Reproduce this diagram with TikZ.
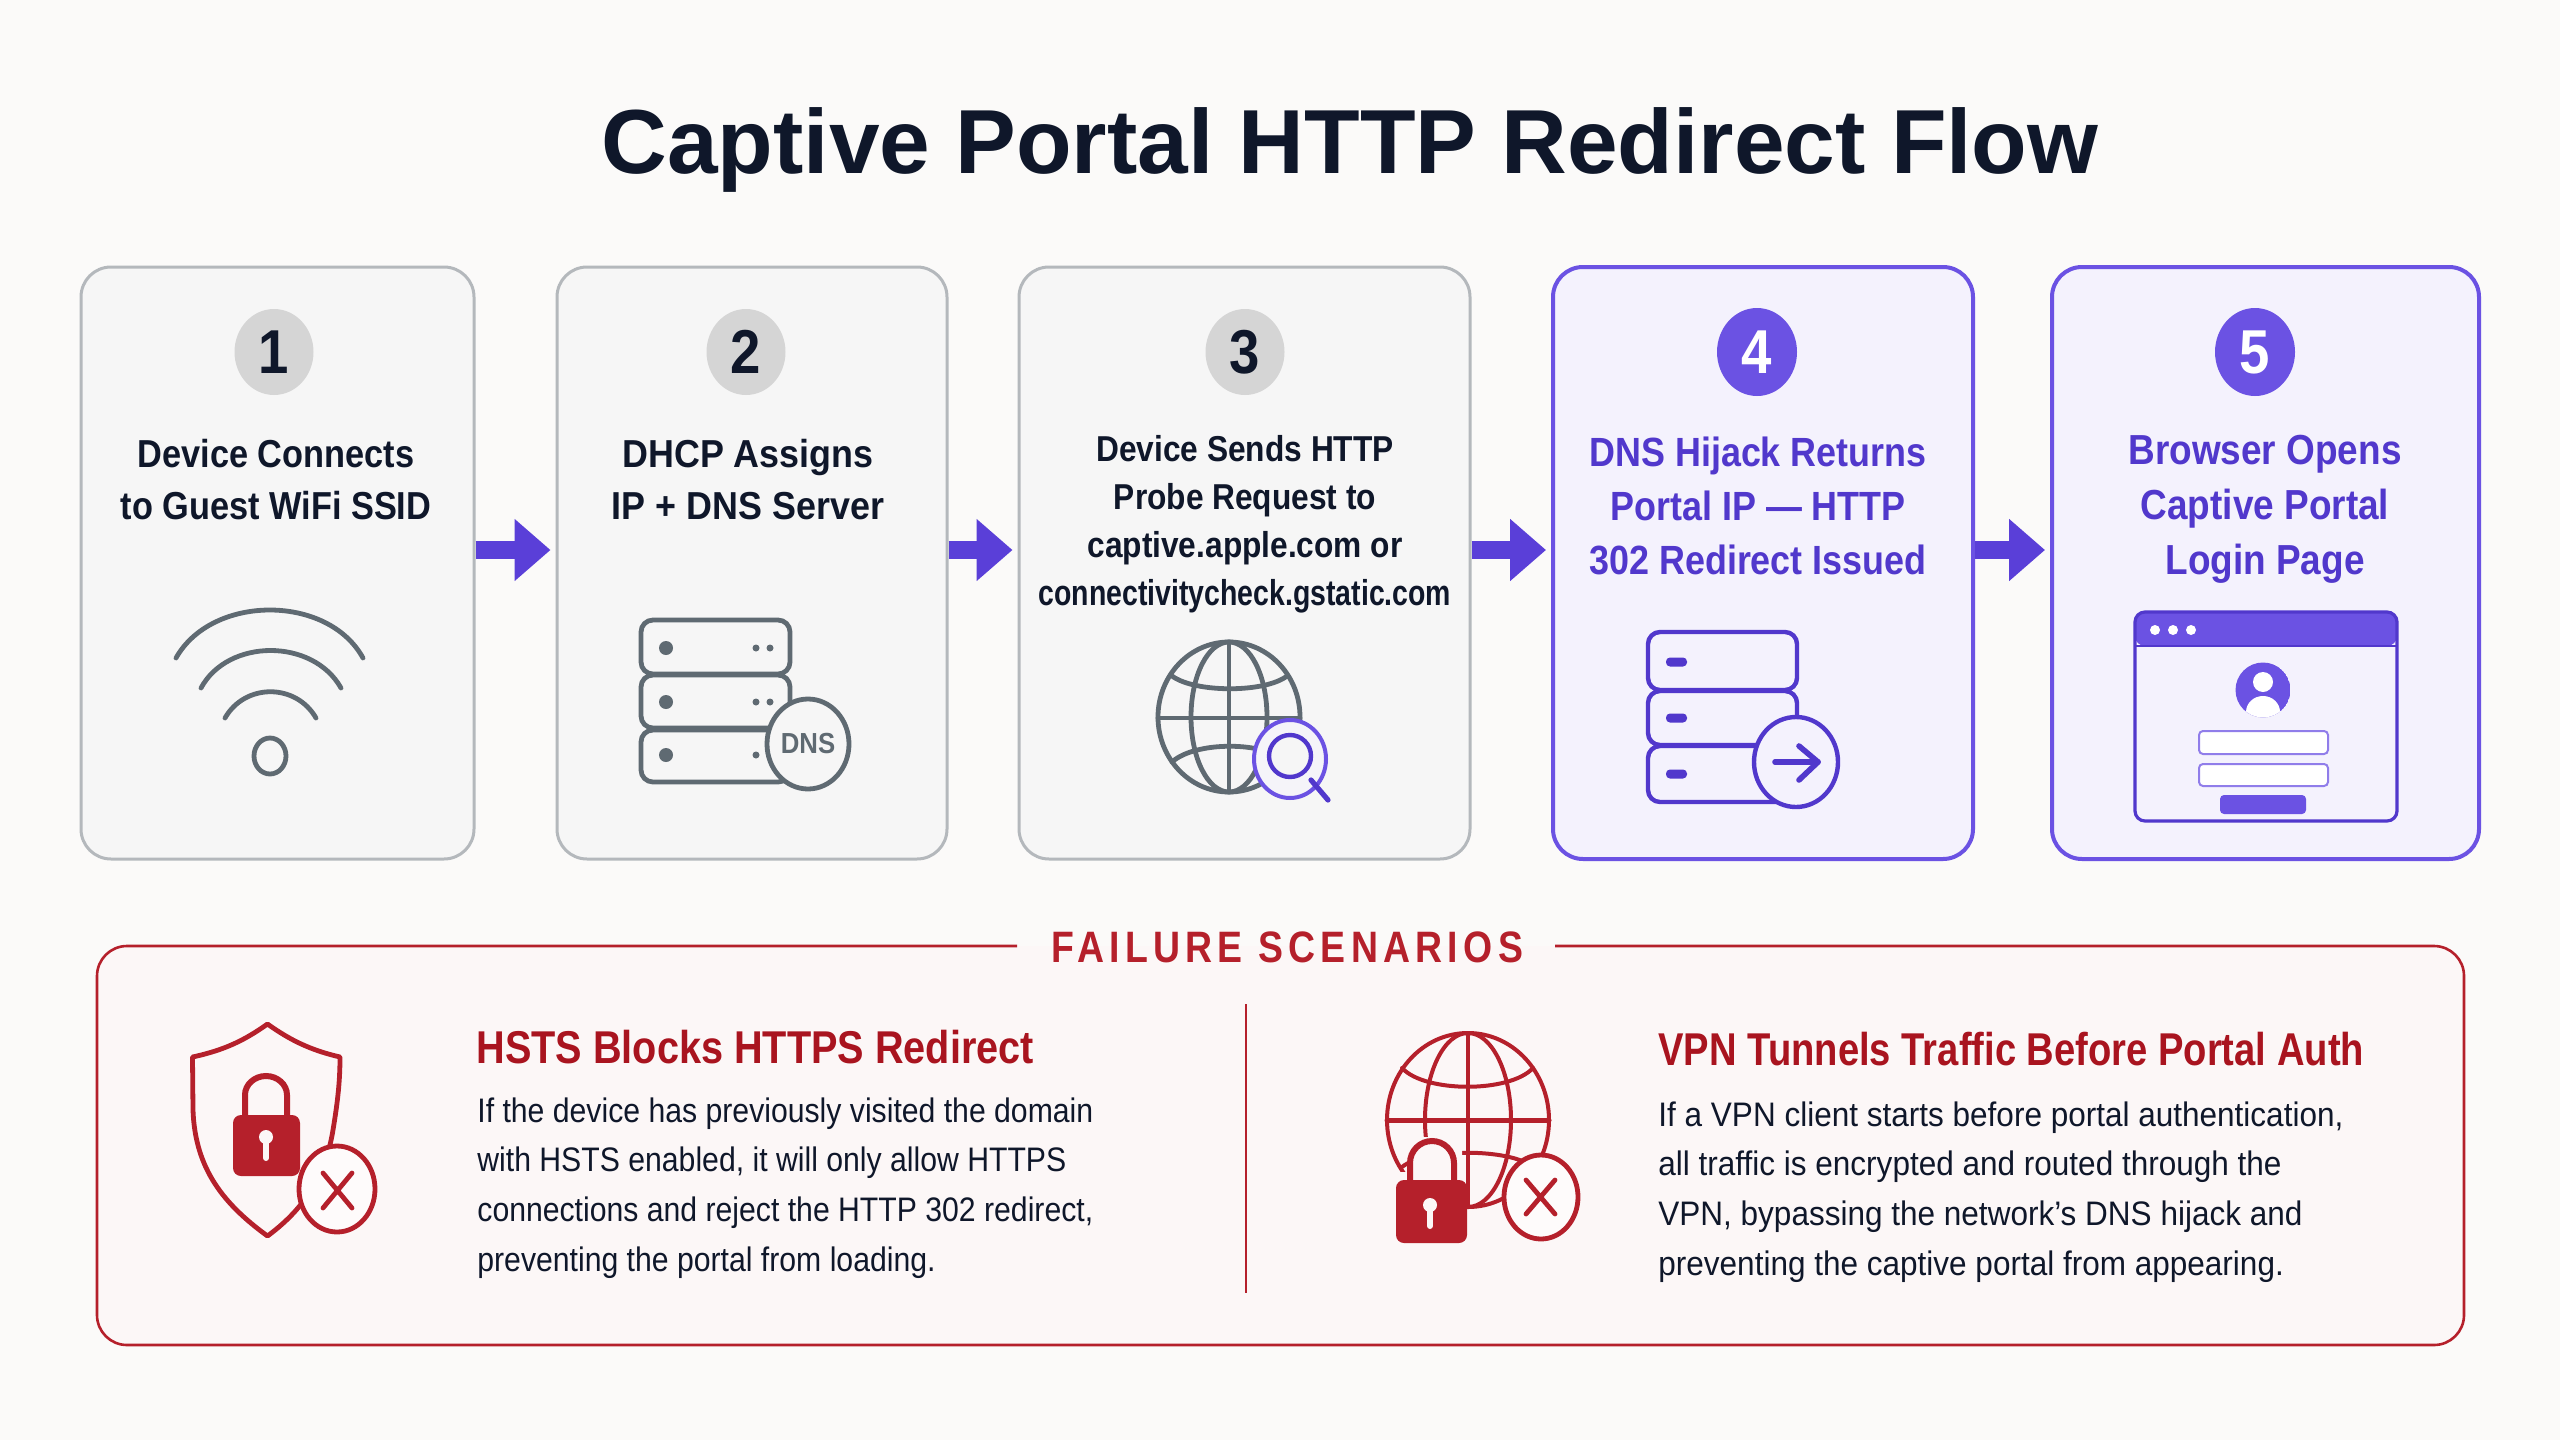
\documentclass[tikz,border=0pt]{standalone}
\usepackage{fontspec}
\usetikzlibrary{arrows.meta,fit,shapes.geometric}
\setmainfont{Liberation Sans}
\newfontfamily\headf[FakeStretch=0.88]{Liberation Sans}
\newfontfamily\headwide[FakeStretch=0.92]{Liberation Sans}
\newfontfamily\headnarrow[FakeStretch=0.79]{Liberation Sans}
\newfontfamily\headone[FakeStretch=0.862]{Liberation Sans}
\newfontfamily\headtwo[FakeStretch=0.83]{Liberation Sans}
\newfontfamily\bodyf[FakeStretch=0.888]{Liberation Sans}
\newfontfamily\bodytwo[FakeStretch=0.927]{Liberation Sans}
\newfontfamily\labelf[FakeStretch=0.85,LetterSpace=12]{Liberation Sans}
\definecolor{pagebg}{HTML}{FBFAF9}
\definecolor{graycard}{HTML}{F6F6F6}
\definecolor{grayedge}{HTML}{B4B8BC}
\definecolor{graybadge}{HTML}{D5D5D5}
\definecolor{ink}{HTML}{0F172A}
\definecolor{iconink}{HTML}{5F6A72}
\definecolor{violetfill}{HTML}{F4F2FD}
\definecolor{violetedge}{HTML}{6B52E3}
\definecolor{violetdark}{HTML}{5138CC}
\definecolor{violetarrow}{HTML}{5A3FD8}
\definecolor{failfill}{HTML}{FCF7F7}
\definecolor{failred}{HTML}{B5202B}
\definecolor{failhead}{HTML}{A9141F}
\tikzset{
  graybox/.style={draw=grayedge,line width=1.5pt,fill=graycard,rounded corners=15pt,inner sep=0pt},
  violetbox/.style={draw=violetedge,line width=2pt,fill=violetfill,rounded corners=15pt,inner sep=0pt},
  graybadgestyle/.style={ellipse,fill=graybadge,text=ink,minimum width=39.5pt,minimum height=43pt,inner sep=0pt,font=\headf\bfseries\fontsize{31}{31}\selectfont},
  violetbadgestyle/.style={ellipse,fill=violetedge,text=white,minimum width=40pt,minimum height=44pt,inner sep=0pt,font=\headf\bfseries\fontsize{31}{31}\selectfont},
  flowarrow/.style={draw=violetarrow,line width=9pt,-{Triangle[length=18pt,width=30pt]},shorten >=2.5pt},
  steptext/.style={align=center,inner sep=0pt,text=ink},
  violettext/.style={align=center,inner sep=0pt,text=violetdark},
  failheadstyle/.style={anchor=west,inner sep=0pt,text=failhead,font=\bfseries\fontsize{23}{28}\selectfont},
  failbody/.style={anchor=west,align=left,inner sep=0pt,text=ink,font=\fontsize{17}{24.9}\selectfont},
  grayicon/.style={draw=iconink,line width=2.4pt,line cap=round,line join=round},
  violeticon/.style={draw=violetdark,line width=2.2pt,line cap=round,line join=round},
  redicon/.style={draw=failred,line width=2pt,line cap=round,line join=round},
}
\begin{document}
\begin{tikzpicture}[x=0.5pt,y=-0.5pt]
\useasboundingbox (0,0) rectangle (2560,1440);
\fill[pagebg] (0,0) rectangle (2560,1440);

\node[anchor=center,inner sep=0pt,text=ink,font=\bfseries\fontsize{45.5}{50}\selectfont] (title) at (1350,150) {Captive Portal HTTP Redirect Flow};

% cards
\node[graybox,fit={(81,267) (474,859)}] (c1) {};
\node[graybox,fit={(557,267) (947,859)}] (c2) {};
\node[graybox,fit={(1019,267) (1470,859)}] (c3) {};
\node[violetbox,fit={(1553,267) (1973,859)}] (c4) {};
\node[violetbox,fit={(2052,267) (2479,859)}] (c5) {};

% connectors
\draw[flowarrow] ([yshift=6.5pt]c1.east) -- ([yshift=6.5pt]c2.west);
\draw[flowarrow] ([yshift=6.5pt]c2.east) -- ([yshift=6.5pt]c3.west);
\draw[flowarrow] ([yshift=6.5pt]c3.east) -- ([yshift=6.5pt]c4.west);
\draw[flowarrow] ([yshift=6.5pt]c4.east) -- ([yshift=6.5pt]c5.west);

% badges
\node[graybadgestyle] (b1) at (274,352) {1};
\node[graybadgestyle] (b2) at (746,352) {2};
\node[graybadgestyle] (b3) at (1245,352) {3};
\node[violetbadgestyle] (b4) at (1757,352) {4};
\node[violetbadgestyle] (b5) at (2255,352) {5};

% step texts
\node[steptext,font=\headf\bfseries\fontsize{19.5}{26}\selectfont] (t1) at (276,480) {Device Connects\\to Guest WiFi SSID};
\node[steptext,font=\headwide\bfseries\fontsize{19.5}{26}\selectfont] (t2) at (748,480) {DHCP Assigns\\IP + DNS Server};
\node[steptext,font=\headf\bfseries\fontsize{18}{24}\selectfont] (t3) at (1245,524) {Device Sends HTTP\\Probe Request to\\captive.apple.com or\\{\headnarrow\bfseries connectivitycheck.gstatic.com}};
\node[violettext,font=\headf\bfseries\fontsize{20.4}{27}\selectfont] (t4) at (1758,506) {DNS Hijack Returns\\Portal IP — HTTP\\302 Redirect Issued};
\node[violettext,font=\headf\bfseries\fontsize{21}{27.5}\selectfont] (t5) at (2265,509) {Browser Opens\\Captive Portal\\Login Page};

% wifi icon
\draw[grayicon] (176,658) .. controls (212,594) and (328,594) .. (363,658);
\draw[grayicon] (201,688) .. controls (228,638) and (313,638) .. (341,688);
\draw[grayicon] (225,718) .. controls (245,683) and (296,683) .. (316,718);
\draw[grayicon] (270,756) ellipse [x radius=16,y radius=18];

% dns server icon
\draw[grayicon,rounded corners=6pt] (641,620) rectangle (790,674);
\draw[grayicon,rounded corners=6pt] (641,675) rectangle (790,728);
\draw[grayicon,rounded corners=6pt] (641,730) rectangle (790,782);
\fill[iconink] (666,648) circle [radius=7] (666,702) circle [radius=7] (666,755) circle [radius=7];
\fill[iconink] (756,648) circle [radius=3.5] (770,648) circle [radius=3.5] (756,702) circle [radius=3.5] (770,702) circle [radius=3.5] (756,755) circle [radius=3.5];
\draw[grayicon,fill=graycard] (808,744) ellipse [x radius=41,y radius=45];
\node[inner sep=0pt,text=iconink,font=\bodyf\bfseries\fontsize{14.5}{15}\selectfont] (dnslabel) at (808,744) {DNS};

% globe with magnifier
\draw[grayicon] (1229,717) ellipse [x radius=71,y radius=75];
\draw[grayicon] (1229,717) ellipse [x radius=38,y radius=75];
\draw[grayicon] (1229,642) -- (1229,792);
\draw[grayicon] (1158,718) -- (1300,718);
\draw[grayicon] (1172,676) .. controls (1195,693) and (1265,693) .. (1287,676);
\draw[grayicon] (1172,762) .. controls (1195,741) and (1265,741) .. (1287,762);
\draw[draw=violetedge,line width=2pt,fill=graycard!60!violetfill] (1290,759) ellipse [x radius=36,y radius=39];
\draw[violeticon,fill=graycard] (1290,756) circle [radius=21];
\draw[violeticon,line width=2.6pt] (1311,780) -- (1328,800);

% hijack server icon
\draw[violeticon,rounded corners=6pt] (1648,632) rectangle (1797,690);
\draw[violeticon,rounded corners=6pt] (1648,691) rectangle (1797,745);
\draw[violeticon,rounded corners=6pt] (1648,746) rectangle (1797,802);
\foreach \yy in {662,718,774} {\fill[violetdark,rounded corners=2pt] (1666,\yy-4.5) rectangle (1687,\yy+4.5);}
\draw[violeticon,fill=violetfill] (1796,762) ellipse [x radius=42,y radius=45];
\draw[violeticon,line width=2.8pt] (1775,762) -- (1818,762);
\draw[violeticon,line width=2.8pt] (1799,746) -- (1818,762) -- (1799,780);

% browser icon
\fill[violetedge,rounded corners=5pt] (2135,612) -- (2397,612) -- (2397,646) -- (2135,646) -- cycle;
\draw[draw=violetdark,line width=1.6pt,rounded corners=5pt,line join=round] (2135,612) rectangle (2397,821);
\draw[draw=violetdark,line width=1.4pt] (2135,646) -- (2397,646);
\fill[white] (2155,630) circle [radius=5] (2173,630) circle [radius=5] (2191,630) circle [radius=5];
\begin{scope}
\clip (2263,690) circle [radius=27.5];
\fill[violetedge] (2263,690) circle [radius=27.5];
\fill[white] (2263,682) circle [radius=10];
\fill[white] (2263,712) ellipse [x radius=17,y radius=16];
\end{scope}
\draw[draw=violetedge!75,line width=1pt,fill=white,rounded corners=2pt] (2199,731) rectangle (2328,754);
\draw[draw=violetedge!75,line width=1pt,fill=white,rounded corners=2pt] (2199,764) rectangle (2328,786);
\fill[violetedge,rounded corners=2pt] (2220,795) rectangle (2306,814);

% failure frame
\fill[failfill,rounded corners=15pt] (97,946) rectangle (2464,1345);
\draw[draw=failred,line width=1.3pt,rounded corners=15pt] (1017,946) -- (97,946) -- (97,1345) -- (2464,1345) -- (2464,946) -- (1555,946);
\fill[pagebg] (1018,925) rectangle (1554,945);
\node[inner sep=0pt,text=failred,font=\labelf\bfseries\fontsize{22}{24}\selectfont] (failtitle) at (1287,947) {FAILURE SCENARIOS};
\draw[draw=failred,line width=1pt] (1246,1004) -- (1246,1293);

% failure texts
\node[failheadstyle,font=\headone\bfseries\fontsize{23}{28}\selectfont] (h1) at (476,1047) {HSTS Blocks HTTPS Redirect};
\node[failbody,font=\bodyf\fontsize{17}{24.9}\selectfont] (p1) at (477,1188) {If the device has previously visited the domain\\with HSTS enabled, it will only allow HTTPS\\connections and reject the HTTP 302 redirect,\\preventing the portal from loading.};
\node[failheadstyle,font=\headtwo\bfseries\fontsize{23}{28}\selectfont] (h2) at (1658,1049) {VPN Tunnels Traffic Before Portal Auth};
\node[failbody,font=\bodytwo\fontsize{17}{24.9}\selectfont] (p2) at (1658,1192) {If a VPN client starts before portal authentication,\\all traffic is encrypted and routed through the\\VPN, bypassing the network’s DNS hijack and\\preventing the captive portal from appearing.};

% shield icon
\draw[redicon,line width=2.4pt] (267.5,1024) .. controls (245,1040) and (225,1050) .. (192.5,1057) -- (193,1110) .. controls (195,1170) and (225,1205) .. (267.5,1236) .. controls (300,1212) and (325,1180) .. (333,1130) .. controls (338,1100) and (340,1080) .. (340,1057) .. controls (310,1050) and (290,1040) .. (267.5,1024) -- cycle;
\draw[draw=failred,line width=3pt] (245,1116) -- (245,1095) arc [start angle=180,end angle=360,x radius=21,y radius=19] -- (287,1116);
\fill[failred,rounded corners=4pt] (233,1115) rectangle (300,1176);
\fill[failfill] (266,1137) circle [radius=7];
\draw[failfill,line width=3pt,line cap=round] (266,1137) -- (266,1158);
\draw[redicon,line width=2.4pt,fill=failfill!50!white] (337,1189) ellipse [x radius=38,y radius=43];
\draw[redicon,line width=2.4pt] (323,1173) -- (352,1208) (352,1173) -- (323,1208);

% vpn globe icon
\draw[redicon] (1468,1120) ellipse [x radius=81,y radius=87];
\draw[redicon] (1468,1120) ellipse [x radius=43,y radius=87];
\draw[redicon] (1468,1033) -- (1468,1207);
\draw[redicon,line width=2.5pt] (1387,1120) -- (1549,1120);
\draw[redicon] (1402,1068) .. controls (1425,1093) and (1510,1093) .. (1533,1068);
\draw[redicon] (1402,1167) .. controls (1425,1148) and (1510,1148) .. (1533,1167);
\fill[failfill] (1380,1172) -- (1412,1172) -- (1400,1137) -- (1462,1137) -- (1462,1250) -- (1380,1250) -- cycle;
\draw[draw=failred,line width=3pt] (1410,1182) -- (1410,1163) arc [start angle=180,end angle=360,x radius=22,y radius=22] -- (1454,1182);
\fill[failred,rounded corners=4pt] (1396,1180) rectangle (1467,1243);
\fill[failfill] (1430,1205) circle [radius=7];
\draw[failfill,line width=3pt,line cap=round] (1430,1205) -- (1430,1226);
\draw[redicon,line width=2.4pt,fill=failfill!50!white] (1541,1197) ellipse [x radius=37,y radius=42];
\draw[redicon,line width=2.4pt] (1526,1180) -- (1555,1214) (1555,1180) -- (1526,1214);
\end{tikzpicture}
\end{document}
